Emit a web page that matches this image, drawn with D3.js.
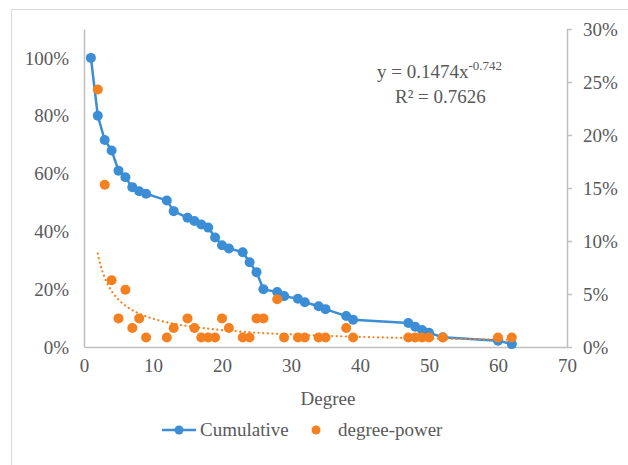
<!DOCTYPE html>
<html>
<head>
<meta charset="utf-8">
<script src="https://cdn.jsdelivr.net/npm/d3@7/dist/d3.min.js"></script>
<style>
  body { margin: 0; background: #fff; }
  svg text { font-family: "Liberation Serif", "Times New Roman", serif; fill: #595959; }
</style>
</head>
<body>
<script>
// cumulative share by degree (left axis)
var cumDegree = [1, 2, 3, 4, 5, 6, 7, 8, 9, 12, 13, 15, 16, 17, 18, 19, 20, 21, 23, 24, 25, 26, 28, 29, 31, 32, 34, 35, 38, 39, 47, 48, 49, 50, 52, 60, 62];
var cumValue = [1.0, 0.80, 0.716, 0.68, 0.61, 0.587, 0.553, 0.539, 0.53, 0.507, 0.47, 0.447, 0.436, 0.424, 0.413, 0.379, 0.352, 0.341, 0.328, 0.293, 0.259, 0.20, 0.19, 0.176, 0.167, 0.155, 0.141, 0.131, 0.107, 0.094, 0.083, 0.07, 0.059, 0.049, 0.034, 0.022, 0.01];

// degree-power scatter (right axis)
var powDegree = [2, 3, 4, 5, 6, 7, 8, 9, 12, 13, 15, 16, 17, 18, 19, 20, 21, 23, 24, 25, 26, 28, 29, 31, 32, 34, 35, 38, 39, 47, 48, 49, 50, 52, 60, 62];
var powValue = [0.243, 0.153, 0.063, 0.027, 0.054, 0.018, 0.027, 0.009, 0.009, 0.018, 0.027, 0.018, 0.009, 0.009, 0.009, 0.027, 0.018, 0.009, 0.009, 0.027, 0.027, 0.045, 0.009, 0.009, 0.009, 0.009, 0.009, 0.018, 0.009, 0.009, 0.009, 0.009, 0.009, 0.009, 0.009, 0.009];

// power trendline shown on the chart: y = a * x^b
var trendA = 0.1474, trendB = -0.742;
var trendRange = [2, 62];

var xTicks = [0, 10, 20, 30, 40, 50, 60, 70];
var leftTicks = [0, 0.2, 0.4, 0.6, 0.8, 1.0];
var rightTicks = [0, 0.05, 0.10, 0.15, 0.20, 0.25, 0.30];

var blue = "#3b8dd6", orange = "#f5801f", axisCol = "#bfbfbf";
var fs = "19px";

var svg = d3.select("body").append("svg")
    .attr("width", 628)
    .attr("height", 465)
    .attr("font-family", "Liberation Serif");

// chart frame
svg.append("rect")
    .attr("x", 11.5).attr("y", 9.5)
    .attr("width", 700).attr("height", 600)
    .attr("fill", "none").attr("stroke", "#d9d9d9");

var x = d3.scaleLinear().domain([0, 70]).range([84, 567]);
var yL = d3.scaleLinear().domain([0, 1.1]).range([347, 29]);
var yR = d3.scaleLinear().domain([0, 0.3]).range([347, 29]);

function styleAxis(g) {
  g.attr("font-family", "Liberation Serif").attr("font-size", fs);
  g.select(".domain").attr("stroke", axisCol).attr("stroke-width", 1.5);
  g.selectAll(".tick line").attr("stroke", axisCol).attr("stroke-width", 1.5);
  g.selectAll("text").attr("fill", "#595959");
}

// left axis
svg.append("g").attr("transform", "translate(84,0)")
    .call(d3.axisLeft(yL).tickValues(leftTicks).tickSize(0).tickPadding(15).tickFormat(d3.format(".0%")))
    .call(styleAxis);

// right axis
svg.append("g").attr("transform", "translate(567,0)")
    .call(d3.axisRight(yR).tickValues(rightTicks).tickSize(5).tickSizeOuter(0).tickPadding(11).tickFormat(d3.format(".0%")))
    .call(styleAxis);

// bottom axis
svg.append("g").attr("transform", "translate(0,347)")
    .call(d3.axisBottom(x).tickValues(xTicks).tickSize(0).tickPadding(12))
    .call(styleAxis);

svg.append("text")
    .attr("x", 328).attr("y", 405)
    .attr("text-anchor", "middle")
    .style("font-size", fs)
    .text("Degree");

// cumulative line
var cum = cumDegree.map(function(d, i) { return [d, cumValue[i]]; });
svg.append("path")
    .datum(cum)
    .attr("fill", "none")
    .attr("stroke", blue)
    .attr("stroke-width", 2.5)
    .attr("d", d3.line().x(function(d) { return x(d[0]); }).y(function(d) { return yL(d[1]); }));
svg.selectAll(".cum").data(cum).enter().append("circle")
    .attr("class", "cum")
    .attr("cx", function(d) { return x(d[0]); })
    .attr("cy", function(d) { return yL(d[1]); })
    .attr("r", 5)
    .attr("fill", blue);

// degree-power points
var pow = powDegree.map(function(d, i) { return [d, powValue[i]]; });
svg.selectAll(".pow").data(pow).enter().append("circle")
    .attr("class", "pow")
    .attr("cx", function(d) { return x(d[0]); })
    .attr("cy", function(d) { return yR(d[1]); })
    .attr("r", 5)
    .attr("fill", orange);

// trendline
var trend = d3.range(trendRange[0], trendRange[1] + 0.01, 0.25).map(function(t) {
  return [t, trendA * Math.pow(t, trendB)];
});
svg.append("path")
    .datum(trend)
    .attr("fill", "none")
    .attr("stroke", orange)
    .attr("stroke-width", 2.2)
    .attr("stroke-linecap", "round")
    .attr("stroke-dasharray", "0.1 4.5")
    .attr("d", d3.line().x(function(d) { return x(d[0]); }).y(function(d) { return yR(d[1]); }));

// equation
var eq = svg.append("text")
    .attr("x", 377).attr("y", 78)
    .style("font-size", fs);
eq.append("tspan").text("y = 0.1474x");
eq.append("tspan").attr("dy", -8).style("font-size", "13px").text("-0.742");
svg.append("text")
    .attr("x", 395).attr("y", 103)
    .style("font-size", fs)
    .text("R² = 0.7626");

// legend
var lg = svg.append("g").attr("transform", "translate(0,430)");
lg.append("line").attr("x1", 162).attr("x2", 196).attr("stroke", blue).attr("stroke-width", 2.5);
lg.append("circle").attr("cx", 179).attr("r", 4.5).attr("fill", blue);
lg.append("text").attr("x", 200).attr("y", 6).style("font-size", fs).text("Cumulative");
lg.append("circle").attr("cx", 316).attr("r", 4.5).attr("fill", orange);
lg.append("text").attr("x", 338).attr("y", 6).style("font-size", fs).text("degree-power");
</script>
</body>
</html>
